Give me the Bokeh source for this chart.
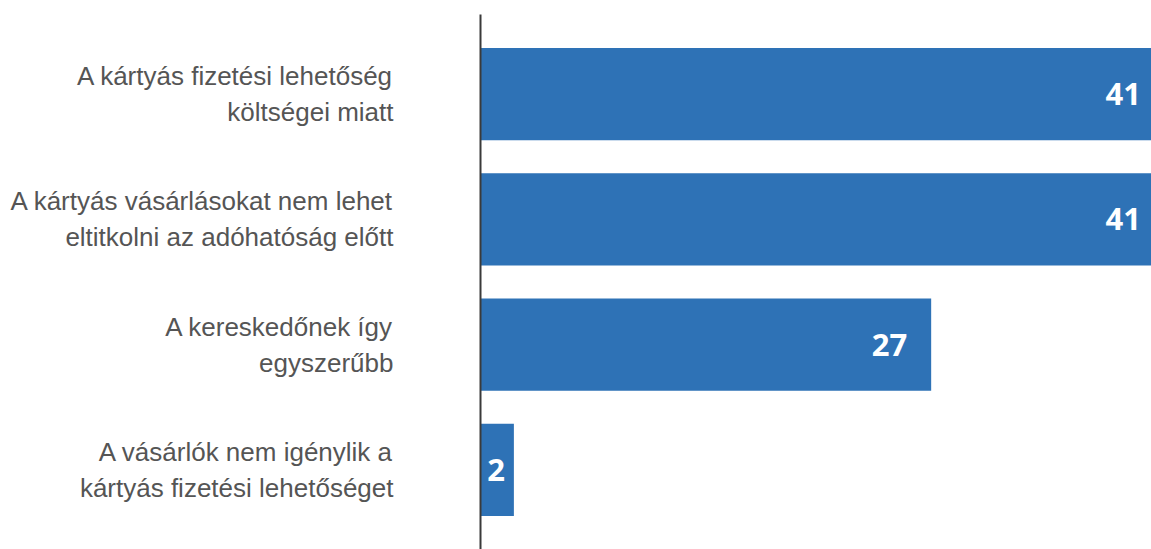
from bokeh.plotting import figure
from bokeh.models import FactorRange, Range1d, ColumnDataSource
from bokeh.core.properties import value
from bokeh.embed import file_html
from bokeh.resources import INLINE

categories = [
    "A kártyás fizetési lehetőség\nköltségei miatt",
    "A kártyás vásárlásokat nem lehet\neltitkolni az adóhatóság előtt",
    "A kereskedőnek így\negyszerűbb",
    "A vásárlók nem igénylik a\nkártyás fizetési lehetőséget",
]
values = [41, 41, 27, 2]
labels = [str(v) for v in values]

offsets = [-24 if v >= 5 else -9 for v in values]

source = ColumnDataSource(dict(cat=categories, val=values, lab=labels, off=offsets))

p = figure(
    width=1151, height=549,
    y_range=FactorRange(factors=list(reversed(categories)), range_padding=0.0675),
    x_range=Range1d(0, 40.2),
    x_axis_location=None,
    output_backend="svg", toolbar_location=None,
    min_border_left=480, min_border_right=0, min_border_top=14, min_border_bottom=0,
)
p.outline_line_color = None
p.background_fill_color = "white"
p.border_fill_color = "white"
p.grid.visible = False

p.hbar(y="cat", right="val", left=0, height=0.737, source=source,
       fill_color="#2E72B6", line_color=None)

p.text(x="val", y="cat", text="lab", source=source, x_offset="off",
       text_align="right", text_baseline="middle", text_color="white",
       text_font=value("Open Sans"), text_font_style="bold", text_font_size="31px")

ax = p.yaxis[0]
ax.axis_line_color = "#3a3a3a"
ax.axis_line_width = 2
ax.major_tick_line_color = None
ax.minor_tick_line_color = None
ax.major_tick_out = 0
ax.major_tick_in = 0
ax.major_label_standoff = 87
ax.major_label_text_font = "Liberation Sans"
ax.major_label_text_font_size = "26px"
ax.major_label_text_color = "#555555"
ax.major_label_text_line_height = 1.2

open("out.html", "w").write(file_html(p, INLINE))
